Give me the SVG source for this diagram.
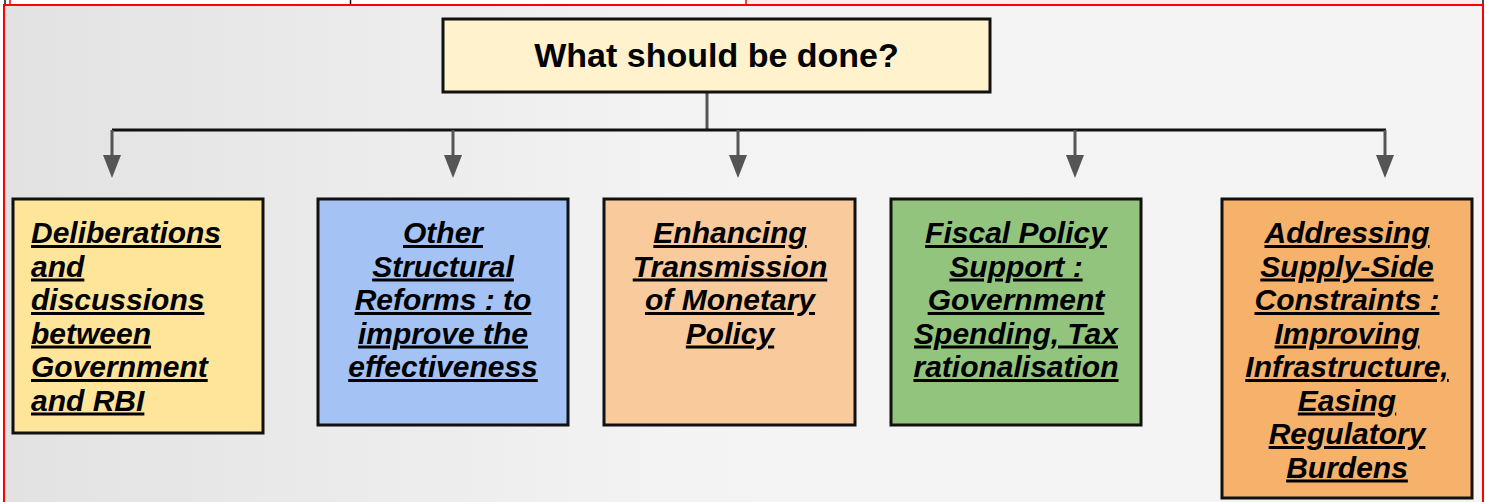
<svg xmlns="http://www.w3.org/2000/svg" width="1492" height="502" viewBox="0 0 1492 502">
  <style>
    .box { stroke: #111111; stroke-width: 3; }
    .lbl { font-family: "Liberation Sans", Arial, sans-serif; font-weight: bold; font-style: italic; font-size: 30px; fill: #000000; text-decoration: underline; }
    .ctr { text-anchor: middle; }
    .title { font-family: "Liberation Sans", Arial, sans-serif; font-weight: bold; font-size: 34px; fill: #000000; text-anchor: middle; }
    .shaft { stroke: #555555; stroke-width: 3; fill: none; }
    .bus { stroke: #111111; stroke-width: 3; fill: none; }
  </style>
  <defs>
    <linearGradient id="bg" x1="0" y1="0" x2="1" y2="0">
      <stop offset="0" stop-color="#e2e2e2"/>
      <stop offset="0.45" stop-color="#f3f3f3"/>
      <stop offset="1" stop-color="#f4f4f4"/>
    </linearGradient>
    <marker id="arrow" markerUnits="userSpaceOnUse" markerWidth="24" markerHeight="18" viewBox="0 0 24 18" refX="1" refY="9" orient="auto">
      <path d="M0,0 L23,9 L0,18 Z" fill="#555555"/>
    </marker>
  </defs>

  <!-- page background -->
  <rect x="0" y="0" width="1492" height="502" fill="#ffffff"/>
  <!-- top strip of previous table -->
  <rect x="746" y="0" width="737" height="5" fill="#fbeeee"/>
  <line x1="10" y1="0" x2="10" y2="5" stroke="#ff0000" stroke-width="1.5"/>
  <line x1="5" y1="0" x2="5" y2="5" stroke="#111111" stroke-width="1.5"/>
  <line x1="350.5" y1="0" x2="350.5" y2="5" stroke="#111111" stroke-width="1.5"/>
  <line x1="746" y1="0" x2="746" y2="5" stroke="#ff0000" stroke-width="1.5"/>
  <line x1="1483" y1="0" x2="1483" y2="5" stroke="#111111" stroke-width="1.5"/>
  <!-- frame -->
  <rect x="4" y="5" width="1479" height="510" fill="url(#bg)" stroke="#ff0000" stroke-width="2"/>

  <!-- connectors -->
  <g id="connectors">
    <line class="shaft" x1="707" y1="92" x2="707" y2="130"/>
    <line class="bus" x1="112" y1="130" x2="1386" y2="130"/>
    <line class="shaft" x1="112" y1="130" x2="112" y2="156" marker-end="url(#arrow)"/>
    <line class="shaft" x1="453" y1="130" x2="453" y2="156" marker-end="url(#arrow)"/>
    <line class="shaft" x1="738" y1="130" x2="738" y2="156" marker-end="url(#arrow)"/>
    <line class="shaft" x1="1075" y1="130" x2="1075" y2="156" marker-end="url(#arrow)"/>
    <line class="shaft" x1="1385" y1="130" x2="1385" y2="156" marker-end="url(#arrow)"/>
  </g>

  <g id="title">
    <rect class="box" x="443" y="19" width="547" height="73" fill="#fff2cc"/>
    <text class="title" x="716.5" y="67">What should be done?</text>
  </g>

  <g id="node-deliberations">
    <rect class="box" x="13" y="199" width="250" height="234" fill="#ffe599"/>
    <text class="lbl" x="31" y="243">Deliberations</text>
    <text class="lbl" x="31" y="276.5">and</text>
    <text class="lbl" x="31" y="310">discussions</text>
    <text class="lbl" x="31" y="343.5">between</text>
    <text class="lbl" x="31" y="377">Government</text>
    <text class="lbl" x="31" y="410.5">and RBI</text>
  </g>

  <g id="node-structural">
    <rect class="box" x="318" y="199" width="250" height="226" fill="#a4c2f4"/>
    <text class="lbl ctr" x="443" y="243">Other</text>
    <text class="lbl ctr" x="443" y="276.5">Structural</text>
    <text class="lbl ctr" x="443" y="310">Reforms : to</text>
    <text class="lbl ctr" x="443" y="343.5">improve the</text>
    <text class="lbl ctr" x="443" y="377">effectiveness</text>
  </g>

  <g id="node-monetary">
    <rect class="box" x="604" y="199" width="251" height="226" fill="#f9cb9c"/>
    <text class="lbl ctr" x="730" y="243">Enhancing</text>
    <text class="lbl ctr" x="730" y="276.5">Transmission</text>
    <text class="lbl ctr" x="730" y="310">of Monetary</text>
    <text class="lbl ctr" x="730" y="343.5">Policy</text>
  </g>

  <g id="node-fiscal">
    <rect class="box" x="891" y="199" width="250" height="226" fill="#93c47d"/>
    <text class="lbl ctr" x="1016" y="243">Fiscal Policy</text>
    <text class="lbl ctr" x="1016" y="276.5">Support :</text>
    <text class="lbl ctr" x="1016" y="310">Government</text>
    <text class="lbl ctr" x="1016" y="343.5">Spending, Tax</text>
    <text class="lbl ctr" x="1016" y="377">rationalisation</text>
  </g>

  <g id="node-supply">
    <rect class="box" x="1222" y="199" width="250" height="299" fill="#f6b26b"/>
    <text class="lbl ctr" x="1347" y="243">Addressing</text>
    <text class="lbl ctr" x="1347" y="276.5">Supply-Side</text>
    <text class="lbl ctr" x="1347" y="310">Constraints :</text>
    <text class="lbl ctr" x="1347" y="343.5">Improving</text>
    <text class="lbl ctr" x="1347" y="377">Infrastructure,</text>
    <text class="lbl ctr" x="1347" y="410.5">Easing</text>
    <text class="lbl ctr" x="1347" y="444">Regulatory</text>
    <text class="lbl ctr" x="1347" y="477.5">Burdens</text>
  </g>
</svg>
